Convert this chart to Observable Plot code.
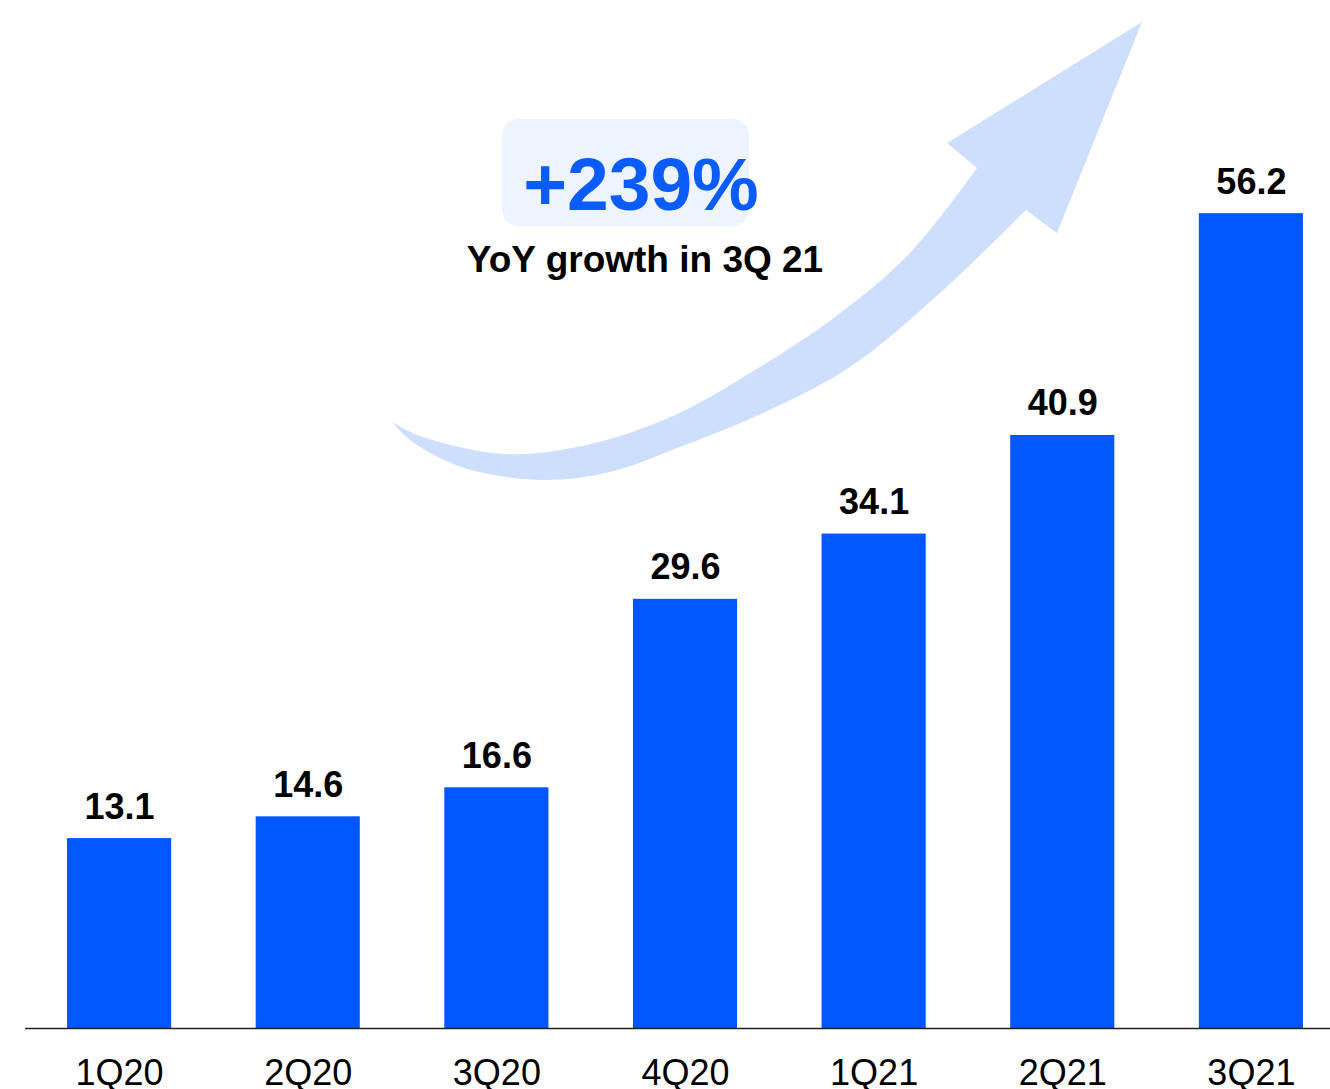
<!DOCTYPE html>
<html>
<head>
<meta charset="utf-8">
<script src="https://cdn.jsdelivr.net/npm/d3@7"></script>
<script src="https://cdn.jsdelivr.net/npm/@observablehq/plot@0.6"></script>
<style>
  html, body { margin: 0; padding: 0; background: #ffffff; }
  #chart { width: 1330px; height: 1089px; overflow: hidden; }
</style>
</head>
<body>
<div id="chart"></div>
<script>
// ---- data ----
const quarters = ["1Q20", "2Q20", "3Q20", "4Q20", "1Q21", "2Q21", "3Q21"];
const values = [13.1, 14.6, 16.6, 29.6, 34.1, 40.9, 56.2];
const growthLabel = "+239%";
const growthCaption = "YoY growth in 3Q 21";

const data = quarters.map((q, i) => ({quarter: q, value: values[i]}));

const FONT = "'Liberation Sans', Arial, Helvetica, sans-serif";
const BAR = "#0057ff";
const ARROW = "#cddffd";

// decorative swoosh arrow (annotation, pixel outline)
const arrowUpper = [[392,422],[420,436],[485,452],[525,454],[595,443],[675,415],[755,370],[835,317],[910,253],[977,168]];
const arrowHead = [[947,143],[1142,22],[1057,233],[1026,210]];
const arrowLower = [[1026,210],[940,293],[850,367],[765,412],[680,447],[610,472],[545,480],[475,471],[440,458],[410,440],[392,422]];

function arrowMark() {
  const curve = d3.line().curve(d3.curveCatmullRom.alpha(0.5));
  const up = curve(arrowUpper);
  const low = curve(arrowLower).replace(/^M[^CL]*/, "");
  const head = arrowHead.map(p => "L" + p[0] + "," + p[1]).join("");
  const d = up + head + low + "Z";
  const g = d3.create("svg:g");
  g.append("path").attr("d", d).attr("fill", ARROW);
  return g.node();
}

function badgeMark() {
  const g = d3.create("svg:g").attr("font-family", FONT);
  g.append("rect")
    .attr("x", 502).attr("y", 119).attr("width", 247).attr("height", 107)
    .attr("rx", 16).attr("fill", "#eef4ff");
  g.append("text")
    .attr("x", 641).attr("y", 210)
    .attr("text-anchor", "middle")
    .attr("font-size", 75).attr("font-weight", "bold")
    .attr("fill", "#0a5cff")
    .text(growthLabel);
  g.append("text")
    .attr("x", 645).attr("y", 272)
    .attr("text-anchor", "middle")
    .attr("font-size", 37).attr("font-weight", "bold")
    .attr("fill", "#000")
    .text(growthCaption);
  return g.node();
}

const chart = Plot.plot({
  width: 1330,
  height: 1089,
  marginLeft: 25,
  marginRight: 0,
  marginTop: 0,
  marginBottom: 61,
  style: {fontFamily: FONT, background: "#ffffff", color: "#000"},
  x: {domain: quarters, range: [24.6, 1345.4], paddingInner: 0.448, paddingOuter: 0.225, round: false, label: null},
  y: {domain: [0, 70.9], axis: null},
  marks: [
    arrowMark,
    Plot.barY(data, {x: "quarter", y: "value", fill: BAR}),
    Plot.text(data, {
      x: "quarter", y: "value", text: d => d.value.toFixed(1),
      dy: -20, lineAnchor: "bottom", fontSize: 36, fontWeight: "bold", fill: "#000"
    }),
    Plot.ruleY([0], {stroke: "#222", strokeWidth: 1.6}),
    Plot.axisX({tickSize: 0, tickPadding: 31, fontSize: 36, label: null, fill: "#000"}),
    badgeMark
  ]
});

document.getElementById("chart").appendChild(chart);
</script>
</body>
</html>
